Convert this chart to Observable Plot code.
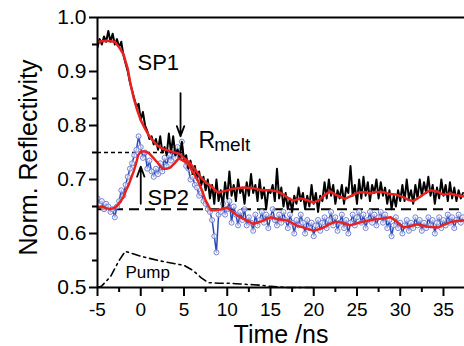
<!DOCTYPE html>
<html><head><meta charset="utf-8">
<script src="https://cdn.jsdelivr.net/npm/d3@7"></script>
<script src="https://cdn.jsdelivr.net/npm/@observablehq/plot@0.6"></script>
<style>body{margin:0;background:#fff}</style>
</head><body><div id="chart"></div>
<script>
// ---- tick labels ----
const xMajorTicks = [-5, 0, 5, 10, 15, 20, 25, 30, 35];
const xMinorTicks = [-2.5, 2.5, 7.5, 12.5, 17.5, 22.5, 27.5, 32.5];
const yMajorTicks = [0.5, 0.6, 0.7, 0.8, 0.9, 1.0];
const yMinorTicks = [0.55, 0.65, 0.75, 0.85, 0.95];

// ---- raw data: sampled every 0.25 ns starting at -5 ns ----
const rawStart = -5, rawStep = 0.25;
const sp1Raw = [
  0.945,0.96,0.95,0.965,0.955,0.975,0.955,0.97,
  0.95,0.96,0.945,0.955,0.93,0.915,0.9,0.88,
  0.865,0.85,0.835,0.84,0.81,0.825,0.80,0.79,
  0.775,0.78,0.765,0.775,0.755,0.78,0.75,0.76,
  0.745,0.785,0.75,0.78,0.745,0.755,0.74,0.77,
  0.735,0.745,0.72,0.735,0.71,0.725,0.70,0.715,
  0.69,0.705,0.68,0.70,0.665,0.69,0.655,0.70,
  0.66,0.68,0.65,0.695,0.665,0.715,0.67,0.69,
  0.66,0.70,0.675,0.685,0.655,0.695,0.67,0.71,
  0.675,0.69,0.66,0.70,0.665,0.685,0.645,0.68,
  0.675,0.69,0.66,0.72,0.665,0.685,0.65,0.675,
  0.645,0.665,0.64,0.67,0.655,0.685,0.66,0.675,
  0.645,0.67,0.65,0.69,0.655,0.675,0.64,0.67,
  0.66,0.695,0.665,0.70,0.67,0.69,0.655,0.68,
  0.665,0.69,0.655,0.685,0.675,0.725,0.67,0.69,
  0.655,0.70,0.665,0.705,0.67,0.695,0.66,0.69,
  0.675,0.70,0.665,0.695,0.67,0.685,0.655,0.68,
  0.645,0.67,0.65,0.68,0.66,0.69,0.66,0.70,
  0.665,0.68,0.655,0.69,0.665,0.70,0.67,0.695,
  0.675,0.705,0.67,0.69,0.655,0.685,0.665,0.70,
  0.67,0.69,0.66,0.695,0.665,0.685,0.66,0.68,
  0.665,0.675
];
const sp2Raw = [
  0.665,0.655,0.66,0.645,0.655,0.65,0.64,0.645,
  0.63,0.65,0.66,0.68,0.67,0.69,0.705,0.72,
  0.73,0.745,0.755,0.78,0.76,0.74,0.75,0.72,
  0.735,0.715,0.705,0.72,0.71,0.73,0.715,0.74,
  0.725,0.745,0.735,0.755,0.74,0.76,0.745,0.77,
  0.74,0.725,0.72,0.70,0.705,0.69,0.685,0.67,
  0.675,0.66,0.655,0.645,0.64,0.625,0.595,0.565,
  0.635,0.64,0.655,0.635,0.645,0.66,0.62,0.65,
  0.635,0.615,0.64,0.625,0.645,0.615,0.63,0.62,
  0.605,0.635,0.615,0.625,0.64,0.62,0.635,0.61,
  0.63,0.645,0.625,0.615,0.635,0.62,0.64,0.625,
  0.61,0.635,0.62,0.60,0.625,0.615,0.635,0.62,
  0.60,0.625,0.61,0.62,0.595,0.615,0.625,0.605,
  0.62,0.63,0.61,0.625,0.64,0.615,0.63,0.605,
  0.62,0.635,0.61,0.625,0.60,0.62,0.635,0.615,
  0.63,0.64,0.62,0.635,0.61,0.625,0.64,0.62,
  0.635,0.615,0.63,0.64,0.62,0.635,0.61,0.625,
  0.595,0.615,0.63,0.61,0.62,0.60,0.615,0.625,
  0.605,0.62,0.61,0.63,0.615,0.625,0.605,0.62,
  0.61,0.63,0.615,0.625,0.60,0.62,0.63,0.61,
  0.625,0.615,0.635,0.62,0.63,0.61,0.625,0.635,
  0.62,0.63
];

// ---- smoothed fits [time, value] ----
const sp1Smooth = [
  [-5,0.955],[-4,0.957],[-3,0.955],[-2.5,0.945],[-2,0.932],[-1.5,0.905],[-1.2,0.878],[-0.8,0.85],
  [-0.4,0.828],[0,0.81],[0.5,0.794],[1,0.78],[1.5,0.77],[2,0.762],[2.5,0.757],[3.5,0.752],
  [4.4,0.748],[5,0.74],[5.7,0.73],[6.3,0.718],[6.9,0.705],[7.5,0.695],[8.1,0.688],[8.9,0.676],
  [9.5,0.678],[10.7,0.683],[12,0.685],[13,0.684],[14,0.68],[15,0.68],[15.8,0.678],[16.5,0.672],
  [17.2,0.664],[17.7,0.661],[18.5,0.665],[19.2,0.662],[20,0.657],[20.7,0.663],[21.3,0.672],
  [21.9,0.678],[22.5,0.672],[23.1,0.668],[23.6,0.664],[24.4,0.67],[25,0.675],[25.8,0.677],
  [26.5,0.674],[27.2,0.677],[28,0.677],[28.8,0.673],[29.5,0.672],[30.4,0.667],[31,0.662],
  [31.5,0.66],[32.3,0.668],[33,0.676],[33.5,0.68],[34.2,0.678],[35,0.672],[35.8,0.674],
  [36.5,0.671],[37.4,0.669]
];
const sp2Smooth = [
  [-5,0.648],[-4.5,0.65],[-4,0.647],[-3.5,0.645],[-3,0.648],[-2.7,0.652],[-2.3,0.66],[-2,0.668],
  [-1.7,0.68],[-1.4,0.69],[-1.1,0.703],[-0.8,0.716],[-0.5,0.732],[-0.3,0.745],[0,0.752],[0.5,0.752],
  [1,0.748],[1.4,0.741],[2,0.73],[2.5,0.72],[3,0.72],[3.4,0.722],[3.9,0.73],[4.4,0.739],
  [4.9,0.735],[5.4,0.73],[6,0.715],[6.6,0.698],[7,0.683],[7.5,0.661],[8.1,0.643],[8.7,0.643],
  [9.3,0.645],[10,0.648],[10.6,0.64],[11.2,0.633],[12,0.626],[13,0.618],[14,0.623],[15,0.63],
  [16,0.626],[17,0.624],[18,0.615],[19,0.61],[20,0.605],[21,0.61],[21.9,0.618],[22.5,0.622],
  [23.3,0.62],[24.2,0.615],[25.2,0.62],[26.6,0.625],[28,0.628],[28.9,0.63],[29.6,0.622],
  [30.4,0.611],[31.2,0.614],[32,0.617],[33,0.613],[34.3,0.611],[35,0.616],[35.8,0.621],
  [36.5,0.623],[37.4,0.624]
];
const pump = [
  [-5,0.5],[-4.5,0.503],[-3.5,0.52],[-2.5,0.55],[-1.8,0.567],[-1,0.563],[0,0.558],[1,0.554],
  [2,0.55],[3,0.547],[4,0.544],[5,0.541],[6,0.532],[7,0.518],[7.8,0.509],[9,0.508],[10,0.508],
  [11,0.507],[12,0.506],[13,0.505],[14,0.504],[15,0.502],[16,0.501],[17,0.5],[20,0.5]
];

// ---- reference levels & annotations ----
const meltLevel = [{v: 0.75, from: -5, to: 4.9}];
const baseLevel = [{v: 0.645, from: -5, to: 37.43}];
const arrows = [
  {x1: 4.6, y1: 0.86, x2: 4.6, y2: 0.78},
  {x1: 0, y1: 0.655, x2: 0, y2: 0.724}
];
const labels = [
  {t: -0.38, v: 0.902, text: "SP1", size: 22},
  {t: 6.68, v: 0.759, text: "R", size: 23},
  {t: 8.5, v: 0.752, text: "melt", size: 19},
  {t: 0.78, v: 0.652, text: "SP2", size: 22},
  {t: -1.76, v: 0.5185, text: "Pump", size: 17}
];

const sp1Data = sp1Raw.map((v, i) => ({t: rawStart + i * rawStep, v}));
const sp2Data = sp2Raw.map((v, i) => ({t: rawStart + i * rawStep, v}));
const frameTop = yMajorTicks[yMajorTicks.length - 1];
const frameBottom = yMajorTicks[0];

const chart = Plot.plot({
  width: 464, height: 346,
  marginLeft: 97, marginRight: 0, marginTop: 17, marginBottom: 59,
  x: {domain: [-5, 37.43]},
  y: {domain: [0.5, 1.0]},
  style: {fontFamily: "'Liberation Sans', Arial, sans-serif", background: "white", color: "black"},
  marks: [
    Plot.ruleY(meltLevel, {y: "v", x1: "from", x2: "to", strokeDasharray: "4,3", strokeWidth: 1.5, stroke: "black"}),
    Plot.ruleY(baseLevel, {y: "v", x1: "from", x2: "to", strokeDasharray: "10,6", strokeWidth: 2, stroke: "black"}),
    Plot.line(pump, {x: d => d[0], y: d => d[1], stroke: "black", strokeWidth: 1.6, strokeDasharray: "8,4,2,4"}),
    Plot.line(sp2Data, {x: "t", y: "v", stroke: "#2a4ab8", strokeWidth: 1.5, clip: true}),
    Plot.dot(sp2Data, {x: "t", y: "v", r: 2.5, stroke: "#7481d4", strokeWidth: 1, fill: "white", fillOpacity: 0.6, clip: true}),
    Plot.line(sp1Data, {x: "t", y: "v", stroke: "black", strokeWidth: 2, clip: true}),
    Plot.line(sp1Smooth, {x: d => d[0], y: d => d[1], stroke: "#e8231f", strokeWidth: 2.5, clip: true}),
    Plot.line(sp2Smooth, {x: d => d[0], y: d => d[1], stroke: "#e8231f", strokeWidth: 2.5, clip: true}),
    Plot.arrow(arrows, {x1: "x1", y1: "y1", x2: "x2", y2: "y2", stroke: "black", strokeWidth: 1.8, headLength: 9, headAngle: 40}),
    Plot.text(labels, {x: "t", y: "v", text: "text", fontSize: "size", textAnchor: "start", lineAnchor: "bottom", fill: "black"}),
    Plot.ruleX([-5], {stroke: "black", strokeWidth: 2}),
    Plot.ruleY([frameBottom, frameTop], {stroke: "black", strokeWidth: 2}),
    Plot.axisX({ticks: xMajorTicks, tickSize: 9, tickPadding: 6, strokeWidth: 2, fontSize: 19, label: null, tickFormat: d => String(d)}),
    Plot.axisX({ticks: xMinorTicks, tickSize: 5, strokeWidth: 2, text: null, label: null}),
    Plot.axisY({ticks: yMajorTicks, tickSize: 8, tickPadding: 3, strokeWidth: 2, fontSize: 21, label: null, tickFormat: d3.format(".1f")}),
    Plot.axisY({ticks: yMinorTicks, tickSize: 5, strokeWidth: 2, text: null, label: null}),
    Plot.text(["Norm. Reflectivity"], {frameAnchor: "left", textAnchor: "middle", lineAnchor: "middle", rotate: -90, dx: -69, dy: 5, fontSize: 25}),
    Plot.text(["Time /ns"], {frameAnchor: "bottom", lineAnchor: "bottom", dy: 55, fontSize: 25})
  ]
});
document.getElementById("chart").appendChild(chart);
</script>
</body></html>
